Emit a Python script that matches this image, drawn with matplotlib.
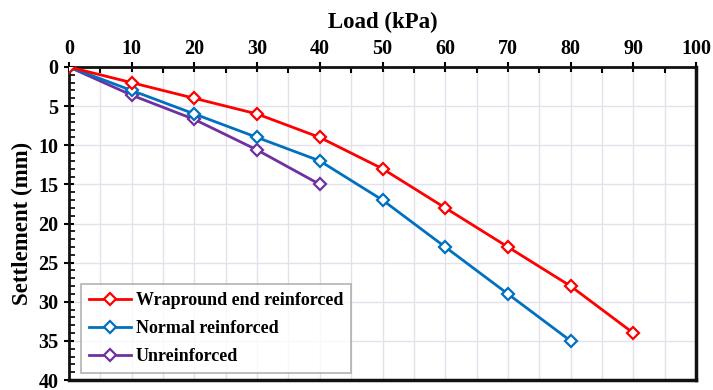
import matplotlib
matplotlib.use("Agg")
import matplotlib.pyplot as plt
from matplotlib.ticker import MultipleLocator

load_wrap = [0, 10, 20, 30, 40, 50, 60, 70, 80, 90]
settle_wrap = [0, 2, 4, 6, 9, 13, 18, 23, 28, 34]
load_normal = [0, 10, 20, 30, 40, 50, 60, 70, 80]
settle_normal = [0, 3, 6, 9, 12, 17, 23, 29, 35]
load_unrein = [0, 10, 20, 30, 40]
settle_unrein = [0, 3.6, 6.7, 10.6, 15]
labels = ["Wrapround end reinforced", "Normal reinforced", "Unreinforced"]

plt.rcParams['font.family'] = ['Liberation Serif', 'DejaVu Serif']
plt.rcParams['font.weight'] = 'bold'

fig = plt.figure(figsize=(7.13, 3.90), dpi=100)
ax = fig.add_axes([69/713, 1-380/390, (696-69)/713, (380-67)/390])

mk = dict(marker='D', markersize=6.5, markerfacecolor='white', markeredgewidth=1.6, linewidth=2)
ax.plot(load_wrap, settle_wrap, color='#FF0000', label=labels[0], **mk, zorder=5)
ax.plot(load_normal, settle_normal, color='#0070C0', label=labels[1], **mk, zorder=4)
ax.plot(load_unrein, settle_unrein, color='#7030A0', label=labels[2], **mk, zorder=3)

ax.set_xlim(0, 100)
ax.set_ylim(40, 0)
ax.xaxis.tick_top()
ax.xaxis.set_label_position('top')
ax.xaxis.set_major_locator(MultipleLocator(10))
ax.xaxis.set_minor_locator(MultipleLocator(5))
ax.yaxis.set_major_locator(MultipleLocator(5))
ax.yaxis.set_minor_locator(MultipleLocator(1))

ax.grid(True, which='major', axis='y', color='#E4E1EC', linewidth=1)
ax.grid(True, which='both', axis='x', color='#E4E1EC', linewidth=1)
ax.set_axisbelow(True)

ax.tick_params(axis='x', which='major', direction='inout', length=7, width=1.5, labelsize=14.5, pad=2)
ax.tick_params(axis='x', which='minor', direction='in', length=4, width=1.5)
ax.tick_params(axis='y', which='major', direction='inout', length=7, width=1.5, labelsize=14.5, pad=4)
ax.tick_params(axis='y', which='minor', direction='in', length=4, width=1.2)
for lbl in ax.get_xticklabels() + ax.get_yticklabels():
    lbl.set_fontweight('bold')

for s in ax.spines.values():
    s.set_linewidth(2)
    s.set_color('#111111')
ax.spines['right'].set_linewidth(2.5)
ax.spines['bottom'].set_linewidth(2.5)

ax.set_xlabel('Load (kPa)', fontsize=16.5, fontweight='bold', labelpad=8)
ax.set_ylabel('Settlement (mm)', fontsize=16.5, fontweight='bold', labelpad=4)

leg = ax.legend(loc='lower left', bbox_to_anchor=(0.019, 0.022),
                prop={'weight': 'bold', 'size': 13}, frameon=True, fancybox=False,
                edgecolor='#A0A0A0', handlelength=2.3, handletextpad=0.3,
                borderpad=0.45, labelspacing=0.6, borderaxespad=0)
leg.get_frame().set_linewidth(1.2)

fig.savefig('out.png', dpi=100)
